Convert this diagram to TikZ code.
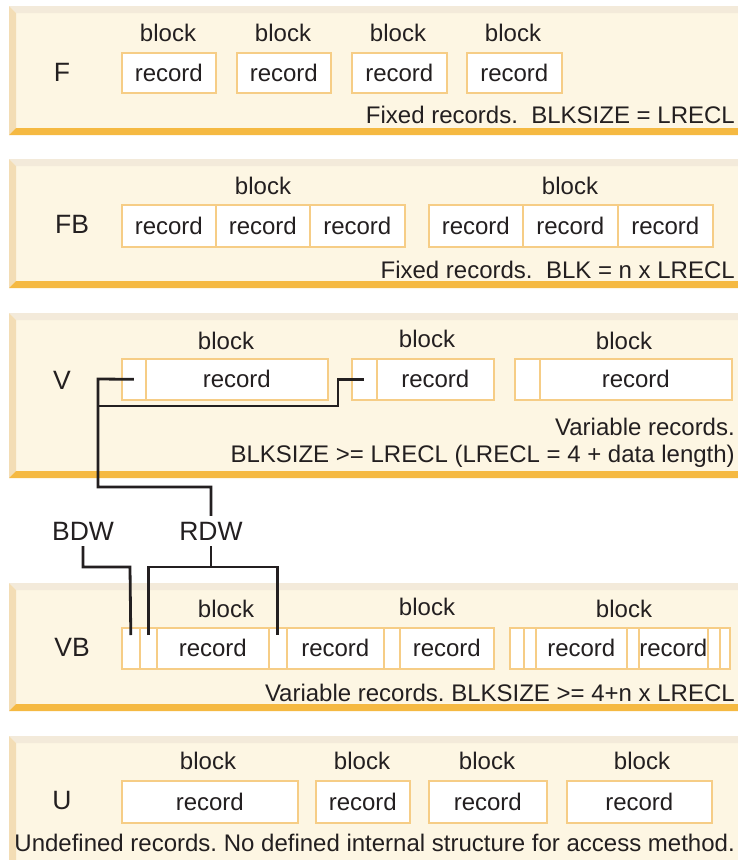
\documentclass[tikz,border=0pt]{standalone}
\usepackage{fontspec}
\setmainfont{Liberation Sans}
\usetikzlibrary{calc}
\definecolor{cream}{HTML}{FDF6E3}
\definecolor{topc}{HTML}{F3EADA}
\definecolor{leftc}{HTML}{F3DDB5}
\definecolor{barc}{HTML}{F5B942}
\definecolor{boxc}{HTML}{F6CD86}
\definecolor{ink}{HTML}{231F20}
\newcommand\mypanel[2]{%
 \fill[cream] (9,#1) rectangle (738,#2);
 \fill[topc] (9,#1) -- (738,#1) -- (738,{#1+7}) -- (16,{#1+7}) -- cycle;
 \fill[leftc] (9,#1) -- (16,{#1+7}) -- (16,{#2-7}) -- (9,#2) -- cycle;
 \fill[barc] (9,#2) -- (16,{#2-7}) -- (738,{#2-7}) -- (738,#2) -- cycle;}
\newcommand\rec[6]{\node[rbox, minimum width={(#3-#2)*1pt}, minimum height=#5pt] (#1) at (#2,#4) {#6};}
\frenchspacing
\begin{document}
\begin{tikzpicture}[x=1pt,y=-1pt,
  every node/.style={font=\fontsize{24}{28}\selectfont, text=ink},
  rbox/.style={draw=boxc, fill=white, line width=1.6pt, inner sep=0pt, anchor=north west},
  lbl/.style={inner sep=0pt},
  big/.style={inner sep=0pt, font=\fontsize{26.5}{30}\selectfont},
  captxt/.style={inner sep=0pt, anchor=base east},
  conn/.style={draw=ink, line width=2.8pt},
  tag/.style={inner sep=2pt, outer sep=4pt, font=\fontsize{26.5}{30}\selectfont}]
\fill[white] (0,0) rectangle (738,860);
\useasboundingbox (0,0) rectangle (738,860);

% ---------- F ----------
\mypanel{6}{135}
\node[big] (lF) at (62,72) {F};
\node[lbl] (bF1) at (168,33) {block};
\node[lbl] (bF2) at (283,33) {block};
\node[lbl] (bF3) at (398,33) {block};
\node[lbl] (bF4) at (513,33) {block};
\rec{f1}{121}{215}{52}{40}{record}
\rec{f2}{236}{330}{52}{40}{record}
\rec{f3}{351}{446}{52}{40}{record}
\rec{f4}{466}{561}{52}{40}{record}
\node[captxt] (cF) at (735,123) {Fixed records.\ \ BLKSIZE = LRECL};

% ---------- FB ----------
\mypanel{159}{288}
\node[big] (lFB) at (72,224) {FB};
\node[lbl] (bFB1) at (263,186) {block};
\node[lbl] (bFB2) at (570,186) {block};
\rec{fb1}{121}{215}{204}{42}{record}
\rec{fb2}{215}{309}{204}{42}{record}
\rec{fb3}{309}{404}{204}{42}{record}
\rec{fb4}{428}{522}{204}{42}{record}
\rec{fb5}{522}{617}{204}{42}{record}
\rec{fb6}{617}{712}{204}{42}{record}
\node[captxt] (cFB) at (735,278) {Fixed records.\ \ BLK = n x LRECL};

% ---------- V ----------
\mypanel{313}{478}
\node[big] (lV) at (62,380) {V};
\node[lbl] (bV1) at (226,341) {block};
\node[lbl] (bV2) at (427,339) {block};
\node[lbl] (bV3) at (624,341) {block};
\rec{vc1}{121}{145}{358}{41}{}
\rec{vr1}{145}{327}{358}{41}{record}
\rec{vc2}{351}{376}{358}{41}{}
\rec{vr2}{376}{493}{358}{41}{record}
\rec{vc3}{514}{539}{358}{41}{}
\rec{vr3}{539}{731}{358}{41}{record}
\node[captxt] (cV1) at (735,435) {Variable records.};
\node[captxt] (cV2) at (735,462) {BLKSIZE >= LRECL (LRECL = 4 + data length)};

% ---------- VB ----------
\mypanel{583}{711}
\node[big] (lVB) at (72,647) {VB};
\node[lbl] (bVB1) at (226,609) {block};
\node[lbl] (bVB2) at (427,607) {block};
\node[lbl] (bVB3) at (624,609) {block};
\rec{wa1}{121}{139}{627}{41}{}
\rec{wa2}{139}{156}{627}{41}{}
\rec{wa3}{156}{268}{627}{41}{record}
\rec{wa4}{268}{286}{627}{41}{}
\rec{wa5}{286}{383}{627}{41}{record}
\rec{wa6}{383}{399}{627}{41}{}
\rec{wa7}{399}{493}{627}{41}{record}
\rec{wb1}{509}{523}{627}{41}{}
\rec{wb2}{523}{535}{627}{41}{}
\rec{wb3}{535}{626}{627}{41}{record}
\rec{wb4}{626}{638}{627}{41}{}
\rec{wb5}{638}{707}{627}{41}{record}
\rec{wb6}{707}{719}{627}{41}{}
\rec{wb7}{719}{729}{627}{41}{}
\node[captxt] (cVB) at (735,701) {Variable records. BLKSIZE >= 4+n x LRECL};

% ---------- U ----------
\mypanel{736}{867}
\node[big] (lU) at (62,801) {U};
\node[lbl] (bU1) at (208,761) {block};
\node[lbl] (bU2) at (362,761) {block};
\node[lbl] (bU3) at (487,761) {block};
\node[lbl] (bU4) at (642,761) {block};
\rec{u1}{121}{297}{780}{42}{record}
\rec{u2}{315}{409}{780}{42}{record}
\rec{u3}{428}{546}{780}{42}{record}
\rec{u4}{566}{711}{780}{42}{record}
\node[captxt] (cU) at (735,851) {Undefined records. No defined internal structure for access method.};

% ---------- labels and connectors ----------
\node[tag] (bdw) at (83,531) {BDW};
\node[tag] (rdw) at (211,531) {RDW};

\coordinate (j1) at (98,406);
\draw[conn] (vc1.center) -- (98,379) -- (98,487) -| (rdw.north);
\draw[conn] (j1) -- (338,406) |- (vc2.center);

\draw[conn] (bdw.south) |- (130,567) -- ($(wa1.north)+(0,8)$);
\coordinate (r1) at (211,567);
\draw[conn] (rdw.south) -- (r1);
\draw[conn] ($(wa2.north)+(0,8)$) |- (r1) -| ($(wa4.north)+(0,8)$);
\end{tikzpicture}
\end{document}
